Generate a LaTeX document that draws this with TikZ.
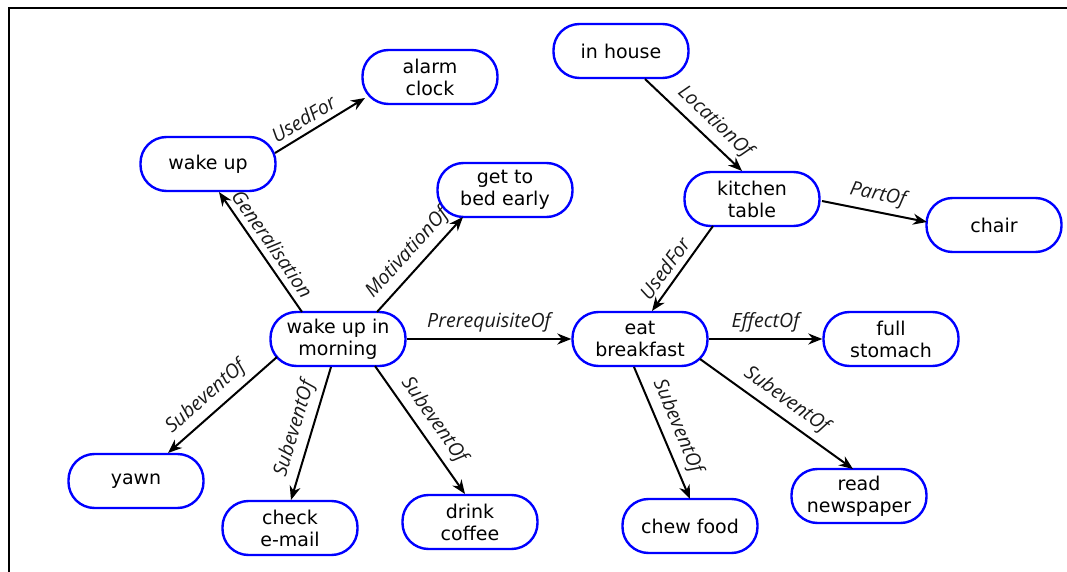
\documentclass[tikz,border=0pt]{standalone}
\usepackage{fontspec}
\usetikzlibrary{arrows.meta,calc}
\newfontfamily\nodeff{DejaVu Sans}
\newfontfamily\lblff{Open Sans}
\tikzset{
  box/.style={draw=blue, line width=1.2pt, rounded corners=13pt,
    minimum width=67.5pt, minimum height=27pt, align=center, inner sep=0pt,
    text=black, font=\nodeff\fontsize{9.5}{11}\selectfont},
  arr/.style={draw=black, line width=1pt, -{Stealth[length=7pt,width=5.5pt]}},
  lbl/.style={sloped, above, inner sep=3pt, text=black!90,
    font=\lblff\itshape\fontsize{9.8}{11}\selectfont},
  frameline/.style={line width=1.3pt, line cap=rect}
}
\begin{document}
\begin{tikzpicture}[x=0.5pt,y=-0.5pt]
\useasboundingbox (0,0) rectangle (1067,572);
\draw[frameline] (9,572) -- (9,8) -- (1067,8);

\node[box] (alarm)   at (430,77)  {alarm\\clock};
\node[box] (wakeup)  at (208,164) {wake up};
\node[box] (bed)     at (505,190) {get to\\bed early};
\node[box] (house)   at (621,51)  {in house};
\node[box] (kitchen) at (752,199) {kitchen\\table};
\node[box] (chair)   at (994,225) {chair};
\node[box] (wum)     at (338,339) {wake up in\\morning};
\node[box] (eat)     at (640,339) {eat\\breakfast};
\node[box] (full)    at (891,339) {full\\stomach};
\node[box] (yawn)    at (136,481) {yawn};
\node[box] (check)   at (290,528) {check\\e-mail};
\node[box] (coffee)  at (470,522) {drink\\coffee};
\node[box] (chew)    at (690,526) {chew food};
\node[box] (read)    at (859,496) {read\\newspaper};

\draw[arr] ($(wakeup)+(67,-11)$) -- node[lbl,pos=.4]{UsedFor} ($(alarm)+(-65,21)$);
\draw[arr] ($(wum)+(-36,-27)$) -- node[lbl,pos=.5]{Generalisation} ($(wakeup)+(11,28)$);
\draw[arr] ($(wum)+(39,-27)$) -- node[lbl,pos=.5]{MotivationOf} ($(bed)+(-42,27)$);
\draw[arr] (wum.east) -- node[lbl,pos=.5]{PrerequisiteOf} (eat.west);
\draw[arr] ($(wum)+(-61,18)$) -- node[lbl,pos=.55]{SubeventOf} ($(yawn)+(32,-28)$);
\draw[arr] ($(wum)+(-7,28)$) -- node[lbl,pos=.5]{SubeventOf} ($(check)+(1,-28)$);
\draw[arr] ($(wum)+(37,27)$) -- node[lbl,pos=.5]{SubeventOf} ($(coffee)+(-5,-28)$);
\draw[arr] ($(house)+(24,28)$) -- node[lbl,pos=.6]{LocationOf} ($(kitchen)+(-10,-28)$);
\draw[arr] ($(kitchen)+(70,2)$) -- node[lbl,pos=.5]{PartOf} ($(chair)+(-67,-3)$);
\draw[arr] ($(kitchen)+(-39,27)$) -- node[lbl,pos=.6]{UsedFor} ($(eat)+(12,-28)$);
\draw[arr] (eat.east) -- node[lbl,pos=.5]{EffectOf} (full.west);
\draw[arr] ($(eat)+(-6,28)$) -- node[lbl,pos=.5]{SubeventOf} ($(chew)+(0,-27)$);
\draw[arr] ($(eat)+(60,20)$) -- node[lbl,pos=.5]{SubeventOf} ($(read)+(-6,-27)$);
\end{tikzpicture}
\end{document}
